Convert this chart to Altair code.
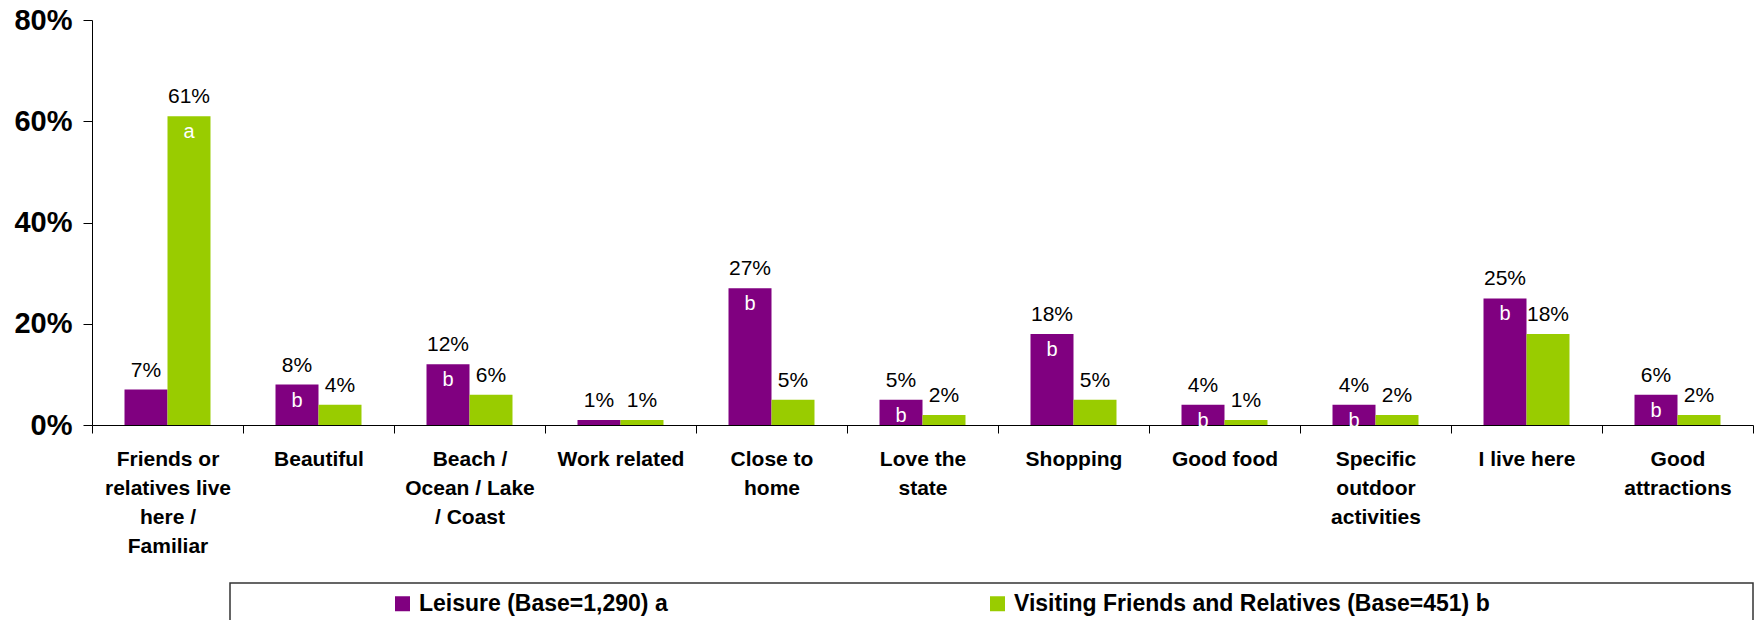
import altair as alt
import pandas as pd

FONT = "Liberation Sans, Arial, sans-serif"

categories = [
    "Friends or|relatives live|here /|Familiar",
    "Beautiful",
    "Beach /|Ocean / Lake|/ Coast",
    "Work related",
    "Close to|home",
    "Love the|state",
    "Shopping",
    "Good food",
    "Specific|outdoor|activities",
    "I live here",
    "Good|attractions",
]
series = ["Leisure (Base=1,290) a", "Visiting Friends and Relatives (Base=451) b"]
leisure = [7, 8, 12, 1, 27, 5, 18, 4, 4, 25, 6]
vfr = [61, 4, 6, 1, 5, 2, 5, 1, 2, 18, 2]
leisure_sig = ["", "b", "b", "", "b", "b", "b", "b", "b", "b", "b"]
vfr_sig = ["a", "", "", "", "", "", "", "", "", "", ""]
colors = ["#800080", "#99CC00"]
y_ticks = [0, 20, 40, 60, 80]

rows = []
for i, c in enumerate(categories):
    rows.append({"category": c, "series": series[0], "value": leisure[i],
                 "label": f"{leisure[i]}%", "sig": leisure_sig[i]})
    rows.append({"category": c, "series": series[1], "value": vfr[i],
                 "label": f"{vfr[i]}%", "sig": vfr_sig[i]})
df = pd.DataFrame(rows)

x = alt.X(
    "category:N",
    sort=categories,
    scale=alt.Scale(paddingInner=0, paddingOuter=0),
    axis=alt.Axis(
        title=None,
        labelExpr="split(datum.label, '|')",
        labelAngle=0,
        labelFont=FONT,
        labelFontSize=21,
        labelFontWeight="bold",
        labelColor="black",
        labelLineHeight=29,
        labelPadding=15,
        labelOverlap=False,
        labelLimit=0,
        tickSize=8,
        tickBand="extent",
        tickColor="black",
        domainColor="black",
    ),
)
xo = alt.XOffset("series:N", sort=series,
                 scale=alt.Scale(paddingInner=0, paddingOuter=0.756))
y = alt.Y(
    "value:Q",
    scale=alt.Scale(domain=[0, 80], nice=False),
    axis=alt.Axis(
        title=None,
        values=y_ticks,
        labelExpr="datum.value + '%'",
        grid=False,
        labelFont=FONT,
        labelFontSize=29,
        labelFontWeight="bold",
        labelColor="black",
        labelPadding=11,
        tickSize=9,
        tickColor="black",
        domainColor="black",
    ),
)

base = alt.Chart(df).encode(x=x, xOffset=xo, y=y)

bars = base.mark_bar().encode(
    color=alt.Color(
        "series:N",
        sort=series,
        scale=alt.Scale(domain=series, range=colors),
        legend=alt.Legend(
            title=None,
            orient="none",
            legendX=299,
            legendY=572,
            direction="horizontal",
            symbolType="square",
            symbolSize=225,
            symbolStrokeWidth=0,
            labelFont=FONT,
            labelFontSize=23,
            labelFontWeight="bold",
            labelColor="black",
            labelOffset=5,
            columnPadding=318,
            labelLimit=0,
        ),
    )
)

values = base.mark_text(
    baseline="alphabetic", dy=-13, fontSize=21, font=FONT, color="black"
).encode(text="label:N")

letters = base.mark_text(
    baseline="middle", dy=16, fontSize=20, font=FONT, color="white"
).encode(text="sig:N")

box = alt.Chart(pd.DataFrame({"k": [0]})).mark_rect(
    fillOpacity=0, stroke="#333333", strokeWidth=1.5
).encode(
    x=alt.value(138), x2=alt.value(1661), y=alt.value(563), y2=alt.value(660)
)

chart = alt.layer(bars, values, letters, box).properties(
    width=1661,
    height=405,
    padding={"left": 92, "top": 20, "right": 6, "bottom": 195},
    autosize=alt.AutoSizeParams(type="none"),
).configure_view(stroke="transparent")

chart.save("out.html", embed_options={"renderer": "svg", "actions": False})
